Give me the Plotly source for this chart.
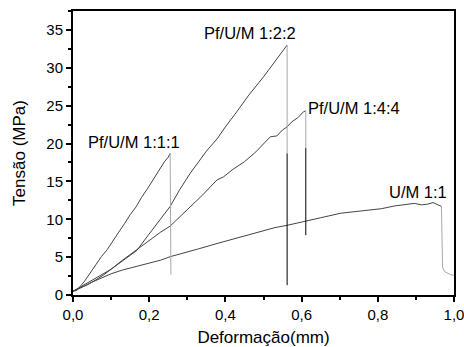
import plotly.graph_objects as go

# ---- data ----
x_111 = [0, 0.01, 0.02, 0.03, 0.045, 0.06, 0.075, 0.09, 0.105, 0.12, 0.135, 0.15,
         0.165, 0.18, 0.195, 0.21, 0.225, 0.24, 0.25, 0.255]
y_111 = [0.5, 0.6, 1.2, 1.8, 2.9, 4.0, 5.1, 6.0, 7.2, 8.3, 9.4, 10.6,
         11.6, 12.9, 14.0, 15.2, 16.4, 17.6, 18.2, 18.7]
drop_111_x = [0.255, 0.257]
drop_111_y = [18.7, 2.7]

x_122 = [0, 0.02, 0.04, 0.06, 0.079, 0.1, 0.12, 0.14, 0.168, 0.19, 0.21, 0.23,
         0.255, 0.28, 0.308, 0.33, 0.35, 0.378, 0.4, 0.43, 0.46, 0.5, 0.53, 0.562]
y_122 = [0.5, 0.9, 1.4, 2.0, 2.6, 3.4, 4.1, 4.9, 5.9, 7.4, 8.7, 10.0,
         11.7, 13.9, 16.1, 17.6, 19.0, 20.6, 22.2, 24.2, 26.3, 28.8, 30.9, 33.0]
drop_122_gray_x = [0.562, 0.562]
drop_122_gray_y = [33.0, 18.7]
drop_122_black_x = [0.562, 0.562]
drop_122_black_y = [18.7, 1.3]

x_144 = [0, 0.02, 0.05, 0.08, 0.1, 0.13, 0.17, 0.2, 0.23, 0.255, 0.28, 0.31,
         0.34, 0.378, 0.395, 0.42, 0.45, 0.48, 0.5, 0.518, 0.535, 0.55, 0.562,
         0.575, 0.59, 0.605, 0.611]
y_144 = [0.5, 1.1, 1.9, 2.8, 3.4, 4.6, 6.1, 7.2, 8.3, 9.1, 10.3, 11.7,
         13.2, 15.2, 15.6, 16.6, 17.6, 18.9, 20.0, 20.9, 21.0, 21.8, 22.2,
         22.9, 23.4, 24.2, 24.3]
drop_144_gray_x = [0.611, 0.611]
drop_144_gray_y = [24.3, 19.4]
drop_144_black_x = [0.611, 0.611]
drop_144_black_y = [19.4, 7.9]

x_um = [0, 0.01, 0.03, 0.05, 0.079, 0.1, 0.13, 0.168, 0.2, 0.23, 0.255, 0.29,
        0.33, 0.378, 0.42, 0.46, 0.5, 0.53, 0.562, 0.61, 0.65, 0.703, 0.74,
        0.773, 0.81, 0.843, 0.87, 0.896, 0.915, 0.931, 0.945, 0.961, 0.967]
y_um = [0.5, 0.7, 1.2, 1.7, 2.4, 2.8, 3.3, 3.8, 4.2, 4.6, 5.06, 5.5,
        6.1, 6.8, 7.4, 7.9, 8.5, 8.9, 9.2, 9.7, 10.2, 10.8, 11.0,
        11.2, 11.4, 11.75, 11.9, 12.1, 11.9, 12.0, 12.2, 11.9, 11.7]
drop_um_x = [0.967, 0.969, 0.970, 0.975, 0.983, 0.99, 1.0]
drop_um_y = [11.7, 8.0, 3.7, 3.1, 2.9, 2.7, 2.6]

labels = ["Pf/U/M 1:1:1", "Pf/U/M 1:2:2", "Pf/U/M 1:4:4", "U/M 1:1"]
label_x = [0.04, 0.343, 0.616, 0.829]
label_y = [20.25, 34.6, 24.75, 13.65]

x_ticks = [0, 0.2, 0.4, 0.6, 0.8, 1.0]
y_ticks = [0, 5, 10, 15, 20, 25, 30, 35]

CURVE = "#444444"
GRAY = "#a8a8a8"
BLACK = "#000000"

fig = go.Figure()
for xs, ys, col in [
    (x_111, y_111, CURVE), (x_122, y_122, CURVE), (x_144, y_144, CURVE), (x_um, y_um, CURVE),
    (drop_111_x, drop_111_y, GRAY),
    (drop_122_gray_x, drop_122_gray_y, GRAY), (drop_122_black_x, drop_122_black_y, BLACK),
    (drop_144_gray_x, drop_144_gray_y, GRAY), (drop_144_black_x, drop_144_black_y, BLACK),
    (drop_um_x, drop_um_y, GRAY),
]:
    fig.add_trace(go.Scatter(x=xs, y=ys, mode="lines",
                             line=dict(color=col, width=1), showlegend=False,
                             hoverinfo="skip"))

for t, lx, ly in zip(labels, label_x, label_y):
    fig.add_annotation(x=lx, y=ly, text=t, showarrow=False, xanchor="left",
                       yanchor="middle", xshift=-2, font=dict(size=16.5, color="black"))

FONT = "Liberation Sans, Arial, sans-serif"
fig.update_layout(
    width=464, height=347,
    margin=dict(l=73, r=10, t=11, b=52),
    paper_bgcolor="white", plot_bgcolor="white",
    separators=",.",
    font=dict(family=FONT, size=14, color="black"),
    xaxis=dict(range=[0, 1], tickvals=x_ticks, tickformat=".1f", automargin=False,
               ticklabeloverflow="allow",
               showline=True, linewidth=2, linecolor="black", mirror=True,
               ticks="outside", ticklen=5, tickwidth=1.5, tickcolor="black",
               minor=dict(dtick=0.1, ticks="outside", ticklen=3, tickwidth=1.5, tickcolor="black"),
               showgrid=False, zeroline=False,
               title=dict(text="Deformação(mm)", font=dict(size=17), standoff=9),
               tickfont=dict(size=15)),
    yaxis=dict(range=[0, 37.5], tickvals=y_ticks, automargin=False,
               ticklabeloverflow="allow",
               showline=True, linewidth=2, linecolor="black", mirror=True,
               ticks="outside", ticklen=5, tickwidth=1.5, tickcolor="black",
               minor=dict(dtick=2.5, ticks="outside", ticklen=3, tickwidth=1.5, tickcolor="black"),
               showgrid=False, zeroline=False,
               title=dict(text="Tensão (MPa)", font=dict(size=17), standoff=16),
               tickfont=dict(size=15)),
)
fig.write_html("out.html")
